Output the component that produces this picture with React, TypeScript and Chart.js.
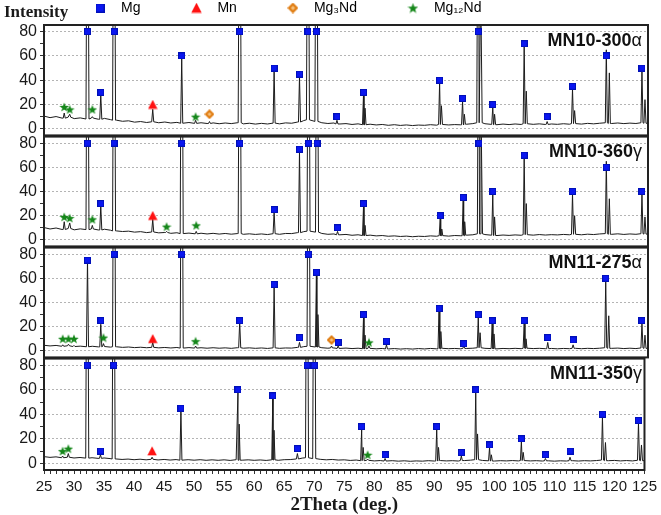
import React, { useEffect, useRef } from 'react';
import { Chart, registerables } from 'chart.js';

Chart.register(...registerables);

// ---------- data ----------
const X_MIN = 25;
const X_MAX = 125;
const Y_MIN = -5.4;
const Y_MAX = 85.4;
const OFF_SCALE = 300; // apex of peaks that run past the top of a panel

const PANEL_NAMES = ['MN10-300', 'MN10-360', 'MN11-275', 'MN11-350'];
const PANEL_GREEK = ['α', 'γ', 'α', 'γ'];
const LEGEND_LABELS = ['Mg', 'Mn', 'Mg₃Nd', 'Mg₁₂Nd'];
const Y_AXIS_LABEL = 'Intensity';
const X_AXIS_LABEL = '2Theta (deg.)';

// baseline intensity, one value per degree from 25 to 125
const baseline1 = [
  10.5, 9.2, 10.1, 8.8, 9.6, 8.4, 9.0, 8.1, 8.8, 7.9,
  8.6, 7.6, 7.1, 6.2, 6.6, 5.5, 6.0, 5.2, 5.8, 5.0,
  5.6, 4.8, 5.3, 4.6, 5.2, 4.5, 5.0, 4.4, 4.9, 4.2,
  4.8, 4.3, 5.0, 4.1, 4.6, 3.9, 4.5, 4.0, 4.7, 4.1,
  4.9, 4.6, 5.6, 6.8, 7.4, 6.1, 5.0, 4.4, 4.8, 4.0,
  4.3, 3.6, 4.1, 3.4, 3.8, 3.2, 3.6, 2.9, 3.4, 2.8,
  3.2, 2.7, 3.1, 2.9, 3.4, 3.0, 3.6, 3.2, 3.5, 3.3,
  3.8, 4.3, 5.0, 4.2, 3.7, 3.4, 3.9, 3.5, 4.0, 3.6,
  4.2, 3.7, 4.1, 3.6, 4.0, 3.7, 4.2, 3.8, 4.3, 3.9,
  4.5, 4.1, 4.6, 5.0, 4.4, 4.8, 4.3, 4.7, 4.4, 5.0,
  4.6,
];
const baseline2 = [
  10.2, 9.0, 9.8, 8.6, 9.4, 8.3, 9.1, 8.5, 9.0, 8.2,
  8.8, 8.0, 7.4, 6.9, 7.2, 6.4, 6.8, 6.0, 6.5, 5.8,
  6.1, 5.4, 5.9, 5.2, 5.6, 5.0, 5.5, 4.9, 5.4, 4.8,
  5.3, 4.7, 5.2, 4.6, 5.0, 4.5, 4.9, 4.4, 5.1, 4.6,
  5.3, 5.2, 6.0, 6.8, 7.2, 6.4, 5.3, 4.6, 4.9, 4.2,
  4.5, 3.8, 4.2, 3.6, 3.9, 3.3, 3.6, 3.0, 3.3, 2.8,
  3.1, 2.6, 3.0, 2.8, 3.3, 3.0, 3.5, 3.1, 3.6, 3.4,
  3.9, 4.2, 5.0, 4.4, 3.9, 3.6, 4.0, 3.7, 4.1, 3.8,
  4.3, 3.9, 4.4, 4.0, 4.3, 4.1, 4.5, 4.2, 4.6, 4.2,
  4.7, 4.4, 4.9, 5.2, 4.6, 5.0, 4.5, 4.9, 4.6, 5.1,
  4.8,
];
const baseline3 = [
  4.6, 4.1, 4.5, 3.8, 4.2, 3.6, 3.9, 3.4, 3.8, 3.3,
  3.6, 3.1, 3.4, 2.9, 3.2, 2.7, 3.0, 2.6, 2.9, 2.5,
  2.8, 2.4, 2.8, 2.3, 2.7, 2.3, 2.6, 2.2, 2.6, 2.2,
  2.5, 2.1, 2.6, 2.2, 2.5, 2.1, 2.4, 2.0, 2.5, 2.1,
  2.4, 2.3, 2.9, 3.5, 3.8, 3.2, 2.6, 2.2, 2.4, 2.0,
  2.3, 1.9, 2.2, 1.8, 2.1, 1.7, 2.0, 1.6, 1.9, 1.5,
  1.8, 1.5, 1.9, 1.6, 2.0, 1.7, 2.1, 1.8, 2.0, 1.7,
  2.0, 2.2, 2.6, 2.1, 1.9, 1.7, 2.0, 1.8, 2.1, 1.8,
  2.2, 1.9, 2.1, 1.8, 2.0, 1.7, 2.0, 1.8, 2.1, 1.8,
  2.1, 1.9, 2.2, 2.6, 2.1, 2.3, 1.9, 2.2, 1.9, 2.4,
  2.1,
];
const baseline4 = [
  5.5, 4.9, 5.3, 4.6, 5.0, 4.4, 4.8, 4.3, 4.6, 4.1,
  4.4, 3.9, 3.6, 3.2, 3.5, 3.0, 3.4, 2.9, 3.3, 2.8,
  3.2, 2.7, 3.1, 2.6, 3.0, 2.6, 3.0, 2.5, 2.9, 2.5,
  2.9, 2.4, 3.0, 2.6, 2.9, 2.5, 2.8, 2.4, 2.9, 2.5,
  3.0, 3.1, 3.6, 4.3, 4.6, 3.9, 3.3, 2.9, 3.2, 2.7,
  2.9, 2.4, 2.7, 2.2, 2.5, 2.0, 2.3, 1.9, 2.2, 1.8,
  2.1, 1.7, 2.0, 1.8, 2.2, 1.9, 2.3, 2.0, 2.2, 1.9,
  2.3, 2.6, 3.0, 2.4, 2.1, 1.9, 2.2, 2.0, 2.3, 2.0,
  2.3, 2.0, 2.2, 1.9, 2.1, 1.8, 2.1, 1.9, 2.2, 1.9,
  2.2, 2.0, 2.3, 2.7, 2.2, 2.4, 2.0, 2.3, 2.0, 2.5,
  2.2,
];

// diffraction peaks [2theta, apex intensity]
const peaks1 = [
  [28.35, 13], [29.26, 12], [32.2, OFF_SCALE], [33.0, 10], [34.4, 28], [36.6, OFF_SCALE],
  [43.0, 16], [47.8, 58], [50.1, 7], [52.4, 6], [57.4, OFF_SCALE], [63.1, 48], [67.3, 43],
  [68.7, OFF_SCALE], [70.1, OFF_SCALE], [73.5, 7], [77.9, 29], [78.15, 17], [90.5, 38], [90.8, 19],
  [94.3, 23], [94.6, 12], [96.9, OFF_SCALE], [97.3, 120], [99.3, 18], [99.6, 12], [104.5, 68],
  [104.85, 31], [108.3, 6], [112.5, 33], [112.85, 15], [118.1, 65], [118.6, 46], [124.0, 48], [124.5, 24],
];
const peaks2 = [
  [28.35, 15], [29.26, 14], [32.2, OFF_SCALE], [33.0, 12], [34.4, 28], [36.6, OFF_SCALE],
  [43.0, 17], [45.3, 7], [47.8, OFF_SCALE], [50.2, 7], [57.4, OFF_SCALE], [63.1, 23], [67.3, 73],
  [68.8, OFF_SCALE], [70.2, OFF_SCALE], [73.6, 7], [77.9, 28], [78.15, 12], [90.6, 18], [90.85, 9],
  [94.4, 33], [94.65, 15], [97.0, OFF_SCALE], [97.35, 110], [99.3, 38], [99.6, 19], [104.5, 68],
  [104.85, 30], [112.5, 38], [112.85, 20], [118.1, 65], [118.6, 34], [124.0, 38], [124.5, 19],
];
const peaks3 = [
  [28.1, 5], [29.05, 5.5], [29.96, 4.5], [32.2, 76], [34.4, 22], [34.85, 6], [36.6, OFF_SCALE],
  [43.0, 7], [47.8, OFF_SCALE], [50.1, 4], [57.4, 24], [63.1, 53], [67.3, 7], [68.8, OFF_SCALE],
  [70.1, 63], [70.35, 30], [72.6, 4], [73.7, 4], [77.9, 28], [78.15, 13], [78.8, 4], [81.7, 5],
  [90.4, 33], [90.7, 16], [94.5, 4], [96.9, 28], [97.2, 15], [99.2, 23], [99.5, 14], [104.5, 23],
  [104.8, 10], [108.4, 7], [112.6, 5], [118.0, 58], [118.5, 29], [124.0, 23], [124.5, 13],
];
const peaks4 = [
  [28.1, 6], [29.05, 8], [32.2, OFF_SCALE], [34.4, 7], [36.6, OFF_SCALE], [43.0, 5], [47.8, 43],
  [57.3, 58], [57.5, 32], [63.1, 53], [63.3, 27], [67.2, 8], [68.8, OFF_SCALE], [70.0, OFF_SCALE],
  [77.9, 28], [78.15, 13], [78.9, 3.5], [81.8, 4], [90.4, 28], [90.7, 13], [94.5, 6], [96.9, 58],
  [97.2, 24], [99.2, 13], [99.5, 7], [104.5, 18], [104.8, 9], [108.5, 4], [112.6, 5], [118.0, 38],
  [118.5, 17], [124.0, 33], [124.5, 15],
];

// phase markers [2theta, marker height]
const mg1 = [
  [32.2, 80], [34.4, 30], [36.6, 80], [47.8, 60], [57.4, 80], [63.1, 50], [67.3, 45], [68.7, 80],
  [70.1, 80], [73.5, 10], [77.9, 30], [90.5, 40], [94.3, 25], [96.9, 80], [99.3, 20], [104.5, 70],
  [108.3, 10], [112.5, 35], [118.1, 60], [124.0, 50],
];
const mn1 = [[43.0, 20]];
const mg3nd1 = [[52.4, 12]];
const mg12nd1 = [[28.35, 18], [29.26, 16], [33.0, 16], [50.1, 10]];

const mg2 = [
  [32.2, 80], [34.4, 30], [36.6, 80], [47.8, 80], [57.4, 80], [63.1, 25], [67.3, 75], [68.8, 80],
  [70.2, 80], [73.6, 10], [77.9, 30], [90.6, 20], [94.4, 35], [97.0, 80], [99.3, 40], [104.5, 70],
  [112.5, 40], [118.1, 60], [124.0, 40],
];
const mn2 = [[43.0, 20]];
const mg3nd2: number[][] = [];
const mg12nd2 = [[28.35, 19], [29.26, 18], [33.0, 17], [45.3, 11], [50.2, 12]];

const mg3 = [
  [32.2, 75], [34.4, 25], [36.6, 80], [47.8, 80], [57.4, 25], [63.1, 55], [67.3, 11], [68.8, 80],
  [70.1, 65], [73.7, 7], [77.9, 30], [81.7, 8], [90.4, 35], [94.5, 6], [96.9, 30], [99.2, 25],
  [104.5, 25], [108.4, 11], [112.6, 9], [118.0, 60], [124.0, 25],
];
const mn3 = [[43.0, 10]];
const mg3nd3 = [[72.6, 9]];
const mg12nd3 = [[28.1, 10], [29.05, 10], [29.96, 10], [34.85, 11], [50.1, 8], [78.8, 7]];

const mg4 = [
  [32.2, 80], [34.4, 10], [36.6, 80], [47.8, 45], [57.3, 60], [63.1, 55], [67.2, 12], [68.8, 80],
  [70.0, 80], [77.9, 30], [81.8, 7], [90.4, 30], [94.5, 9], [96.9, 60], [99.2, 15], [104.5, 20],
  [108.5, 7], [112.6, 10], [118.0, 40], [124.0, 35],
];
const mn4 = [[43.0, 10]];
const mg3nd4: number[][] = [];
const mg12nd4 = [[28.1, 10], [29.05, 12], [78.9, 7]];

// ---------- layout / style ----------
const W = 661;
const H = 515;
const AXIS_W = 44;
const PAD_RIGHT = 13;
const PANEL_TOP = [25, 136, 247, 358];
const PANEL_BOTTOM = [136, 247, 358, 470];
const EDGE = 12;
const LEGEND_H = 66;
const X_AXIS_H = 45;
const TEXT = '#1a1a1a';
const SANS = '"Liberation Sans", Arial, sans-serif';
const SERIF = '"Liberation Serif", "Times New Roman", serif';

function makeMarker(kind: string, size: number): HTMLCanvasElement {
  const c = document.createElement('canvas');
  c.width = size;
  c.height = size;
  const g = c.getContext('2d') as CanvasRenderingContext2D;
  const s = size;
  if (kind === 'square') {
    g.fillStyle = '#0a16f0';
    g.fillRect(0, 0, s, s);
    g.strokeStyle = '#0010b8';
    g.lineWidth = 1;
    g.strokeRect(0.5, 0.5, s - 1, s - 1);
  } else if (kind === 'triangle') {
    g.fillStyle = '#ff1212';
    g.beginPath();
    g.moveTo(s / 2, 0.3);
    g.lineTo(s - 0.3, s - 0.8);
    g.lineTo(0.3, s - 0.8);
    g.closePath();
    g.fill();
  } else if (kind === 'diamond') {
    g.fillStyle = '#e07d12';
    g.beginPath();
    g.moveTo(s / 2, 0);
    g.lineTo(s, s / 2);
    g.lineTo(s / 2, s);
    g.lineTo(0, s / 2);
    g.closePath();
    g.fill();
    g.fillStyle = '#f7c27c';
    const r = s * 0.2;
    g.beginPath();
    g.moveTo(s / 2, s / 2 - r);
    g.lineTo(s / 2 + r, s / 2);
    g.lineTo(s / 2, s / 2 + r);
    g.lineTo(s / 2 - r, s / 2);
    g.closePath();
    g.fill();
  } else {
    g.fillStyle = '#15871a';
    g.beginPath();
    const cx = s / 2;
    const cy = s / 2 + s * 0.05;
    const ro = s / 2;
    const ri = ro * 0.42;
    for (let k = 0; k < 10; k++) {
      const r = k % 2 === 0 ? ro : ri;
      const a = -Math.PI / 2 + (k * Math.PI) / 5;
      const px = cx + r * Math.cos(a);
      const py = cy + r * Math.sin(a);
      if (k === 0) g.moveTo(px, py);
      else g.lineTo(px, py);
    }
    g.closePath();
    g.fill();
  }
  return c;
}

function buildTrace(baseline: number[], peaks: number[][]) {
  const halfWidth = (h: number) => (h > 80 ? 0.25 : 0.17);
  const pts: { x: number; y: number }[] = [];
  baseline.forEach((v, i) => {
    const x = X_MIN + i;
    const inside = peaks.some(([p, h]) => Math.abs(x - p) <= halfWidth(h) + 0.05);
    if (!inside) pts.push({ x, y: v });
  });
  peaks.forEach(([p, h]) => {
    const w = halfWidth(h);
    const foot = baseline[Math.round(p - X_MIN)];
    pts.push({ x: p - w, y: foot }, { x: p, y: h }, { x: p + w, y: foot });
  });
  pts.sort((a, b) => a.x - b.x);
  return pts;
}

const PANELS = [
  { baseline: baseline1, peaks: peaks1, mg: mg1, mn: mn1, mg3nd: mg3nd1, mg12nd: mg12nd1 },
  { baseline: baseline2, peaks: peaks2, mg: mg2, mn: mn2, mg3nd: mg3nd2, mg12nd: mg12nd2 },
  { baseline: baseline3, peaks: peaks3, mg: mg3, mn: mn3, mg3nd: mg3nd3, mg12nd: mg12nd3 },
  { baseline: baseline4, peaks: peaks4, mg: mg4, mn: mn4, mg3nd: mg3nd4, mg12nd: mg12nd4 },
];

const framePlugin = {
  id: 'panelFrame',
  afterDatasetsDraw(chart: any) {
    const { ctx, chartArea: a } = chart;
    ctx.save();
    ctx.strokeStyle = '#222';
    ctx.lineWidth = 2;
    ctx.strokeRect(a.left, a.top, a.right - a.left, a.bottom - a.top);
    ctx.restore();
  },
};

function canvasBox(i: number) {
  if (i === 0) {
    const top = PANEL_TOP[0] - LEGEND_H;
    return { top, height: PANEL_BOTTOM[0] + EDGE - top };
  }
  if (i === 3) {
    const top = PANEL_TOP[3] - EDGE;
    return { top, height: H - top };
  }
  const top = PANEL_TOP[i] - EDGE;
  return { top, height: PANEL_BOTTOM[i] + EDGE - top };
}

export default function App() {
  const refs = [useRef<HTMLCanvasElement>(null), useRef<HTMLCanvasElement>(null), useRef<HTMLCanvasElement>(null), useRef<HTMLCanvasElement>(null)];

  useEffect(() => {
    const markers = {
      mg: makeMarker('square', 7),
      mn: makeMarker('triangle', 10),
      mg3nd: makeMarker('diamond', 10),
      mg12nd: makeMarker('star', 10),
    };
    const legendMarkers = [
      makeMarker('square', 9),
      makeMarker('triangle', 11),
      makeMarker('diamond', 11),
      makeMarker('star', 11),
    ];
    const charts: Chart[] = [];
    PANELS.forEach((panel, i) => {
      const canvas = refs[i].current;
      if (!canvas) return;
      const isFirst = i === 0;
      const isLast = i === 3;
      const toXY = (arr: number[][]) => arr.map(([x, y]) => ({ x, y }));
      const markerSet = (label: string, arr: number[][], style: HTMLCanvasElement, order: number) => ({
        label,
        data: toXY(arr),
        showLine: false,
        pointStyle: style,
        pointRadius: 5,
        pointHoverRadius: 5,
        order,
      });
      const datasets: any[] = [
        markerSet(LEGEND_LABELS[0], panel.mg, markers.mg, 0),
        markerSet(LEGEND_LABELS[1], panel.mn, markers.mn, 1),
        markerSet(LEGEND_LABELS[2], panel.mg3nd, markers.mg3nd, 2),
        markerSet(LEGEND_LABELS[3], panel.mg12nd, markers.mg12nd, 3),
        {
          label: 'pattern',
          data: buildTrace(panel.baseline, panel.peaks),
          showLine: true,
          borderColor: '#1c1c1c',
          borderWidth: 1,
          pointRadius: 0,
          tension: 0,
          clip: 0,
          order: 10,
        },
      ];
      const xScale: any = isLast
        ? {
            type: 'linear',
            min: X_MIN,
            max: X_MAX,
            afterFit: (s: any) => {
              s.height = X_AXIS_H;
            },
            ticks: {
              stepSize: 1,
              maxTicksLimit: 200,
              autoSkip: false,
              maxRotation: 0,
              minRotation: 0,
              includeBounds: false,
              padding: 4,
              color: TEXT,
              font: { family: SANS, size: 15 },
              callback: (v: any) => (Number(v) % 5 === 0 ? String(v) : ''),
            },
            grid: { drawOnChartArea: false, drawTicks: true, tickLength: 4, tickColor: '#333' },
            border: { display: false },
            title: {
              display: true,
              text: X_AXIS_LABEL,
              color: TEXT,
              padding: 0,
              font: { family: SERIF, weight: 'bold', size: 19, lineHeight: 1 },
            },
          }
        : { type: 'linear', min: X_MIN, max: X_MAX, display: false };
      const chart = new Chart(canvas, {
        type: 'scatter',
        data: { datasets },
        plugins: [framePlugin],
        options: {
          responsive: false,
          animation: false,
          devicePixelRatio: 1,
          events: [],
          layout: {
            padding: { left: 0, right: PAD_RIGHT, top: isFirst ? 0 : EDGE, bottom: isLast ? 0 : EDGE },
          },
          scales: {
            x: xScale,
            y: {
              type: 'linear',
              min: Y_MIN,
              max: Y_MAX,
              afterFit: (s: any) => {
                s.width = AXIS_W;
              },
              ticks: {
                stepSize: 10,
                includeBounds: false,
                autoSkip: false,
                padding: 3,
                color: TEXT,
                font: { family: SANS, size: 16 },
                callback: (v: any) => (Number(v) % 20 === 0 ? String(v) : ''),
              },
              grid: {
                color: (c: any) => (c.tick && c.tick.value % 20 === 0 ? '#b4b4b4' : 'rgba(0,0,0,0)'),
                lineWidth: 1,
                drawTicks: true,
                tickLength: 4,
                tickColor: '#333',
              },
              border: { display: false, dash: [2, 2] },
            },
          },
          plugins: {
            tooltip: { enabled: false },
            legend: isFirst
              ? {
                  display: true,
                  position: 'top',
                  align: 'start',
                  fullSize: false,
                  labels: {
                    usePointStyle: true,
                    pointStyleWidth: 28,
                    padding: 42,
                    color: '#222',
                    font: { family: SANS, size: 14 },
                    generateLabels: () =>
                      LEGEND_LABELS.map((t, k) => ({
                        text: t,
                        pointStyle: legendMarkers[k],
                        fillStyle: 'rgba(0,0,0,0)',
                        strokeStyle: 'rgba(0,0,0,0)',
                        lineWidth: 0,
                        hidden: false,
                        datasetIndex: k,
                      })),
                  },
                }
              : { display: false },
          },
        } as any,
      });
      charts.push(chart);
    });
    return () => {
      charts.forEach((c) => c.destroy());
    };
  }, []);

  return (
    <div
      style={{
        position: 'fixed',
        left: 0,
        top: 0,
        width: W,
        height: H,
        background: '#fff',
        overflow: 'hidden',
      }}
    >
      {PANELS.map((_, i) => {
        const box = canvasBox(i);
        return (
          <canvas
            key={i}
            ref={refs[i]}
            width={W}
            height={box.height}
            style={{ position: 'absolute', left: 0, top: box.top, width: W, height: box.height }}
          />
        );
      })}
      <div
        style={{
          position: 'absolute',
          left: 4,
          top: 3,
          fontFamily: SERIF,
          fontWeight: 'bold',
          fontSize: 17,
          lineHeight: '17px',
          color: TEXT,
          whiteSpace: 'nowrap',
        }}
      >
        {Y_AXIS_LABEL}
      </div>
      {PANEL_NAMES.map((name, i) => (
        <div
          key={name + i}
          style={{
            position: 'absolute',
            right: W - 642,
            top: PANEL_TOP[i] + 6,
            fontFamily: SANS,
            fontWeight: 'bold',
            fontSize: 18,
            lineHeight: '18px',
            color: '#111',
            whiteSpace: 'nowrap',
          }}
        >
          {name}
          <span style={{ fontWeight: 'normal' }}>{PANEL_GREEK[i]}</span>
        </div>
      ))}
    </div>
  );
}
